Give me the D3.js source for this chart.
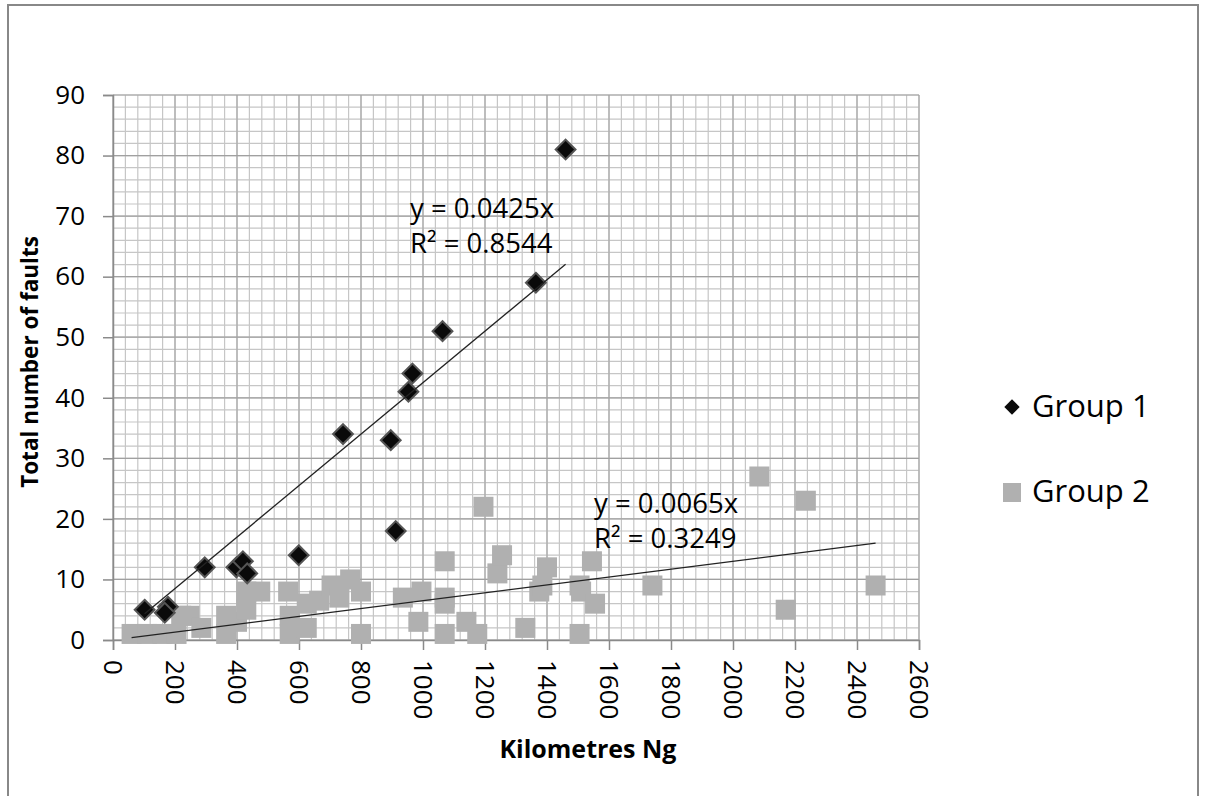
<!DOCTYPE html>
<html>
<head>
<meta charset="utf-8">
<script src="https://cdn.jsdelivr.net/npm/d3@7"></script>
<style>
  html, body { margin: 0; padding: 0; background: #fff; }
  svg { display: block; }
  text { font-family: "Open Sans", "DejaVu Sans", sans-serif; fill: #000; }
</style>
</head>
<body>
<script>
// Kilometres driven vs. total faults, two vehicle groups
const group1X = [102, 177, 167, 296, 398, 419, 433, 599, 742, 896, 912, 953, 966, 1063, 1364, 1460];
const group1Y = [5, 5.5, 4.5, 12, 12, 13, 11, 14, 34, 33, 18, 41, 44, 51, 59, 81];

const group2X = [60, 110, 160, 205, 220, 247, 285, 365, 365, 400, 430, 475, 430, 565, 570, 570,
                 625, 625, 665, 705, 730, 765, 800, 800, 935, 995, 985, 1070, 1070, 1070, 1070,
                 1140, 1175, 1195, 1240, 1255, 1330, 1375, 1385, 1400, 1505, 1510, 1505, 1545,
                 1555, 1740, 2085, 2170, 2235, 2460];
const group2Y = [1, 1, 1, 1, 4, 4, 2, 4, 1, 3, 8, 8, 5, 8, 4, 1,
                 6, 2, 6.5, 9, 7, 10, 8, 1, 7, 8, 3, 13, 7, 6, 1,
                 3, 1, 22, 11, 14, 2, 8, 9, 12, 9, 8, 1, 13,
                 6, 9, 27, 5, 23, 9];

// Linear trend through the origin for each group
const trendSlopes = [0.0425, 0.0065];
const trendLabels = [["y = 0.0425x", "R\u00B2 = 0.8544"], ["y = 0.0065x", "R\u00B2 = 0.3249"]];
const seriesNames = ["Group 1", "Group 2"];

const xTicks = d3.range(0, 2601, 200);
const yTicks = d3.range(0, 91, 10);
const xMinor = d3.range(0, 2601, 40);
const yMinor = d3.range(0, 91, 2);

const W = 1205, H = 796;
const plot = { left: 113, right: 919, top: 95, bottom: 640 };

const svg = d3.select("body").append("svg").attr("width", W).attr("height", H);

// chart frame
svg.append("rect")
  .attr("x", 8).attr("y", 5).attr("width", 1190).attr("height", 800)
  .attr("fill", "none").attr("stroke", "#888").attr("stroke-width", 2);

const x = d3.scaleLinear().domain([0, 2600]).range([plot.left, plot.right]);
const y = d3.scaleLinear().domain([0, 90]).range([plot.bottom, plot.top]);

// minor gridlines
const grid = svg.append("g");
grid.selectAll("line.vx").data(xMinor).join("line")
  .attr("x1", d => x(d)).attr("x2", d => x(d))
  .attr("y1", plot.top).attr("y2", plot.bottom)
  .attr("stroke", "#c6c6c6").attr("stroke-width", 1.2);
grid.selectAll("line.hy").data(yMinor).join("line")
  .attr("y1", d => y(d)).attr("y2", d => y(d))
  .attr("x1", plot.left).attr("x2", plot.right)
  .attr("stroke", "#c6c6c6").attr("stroke-width", 1.2);
// major gridlines
grid.selectAll("line.mx").data(xTicks).join("line")
  .attr("x1", d => x(d)).attr("x2", d => x(d))
  .attr("y1", plot.top).attr("y2", plot.bottom)
  .attr("stroke", "#a8a8a8").attr("stroke-width", 1.2);
grid.selectAll("line.my").data(yTicks).join("line")
  .attr("y1", d => y(d)).attr("y2", d => y(d))
  .attr("x1", plot.left).attr("x2", plot.right)
  .attr("stroke", "#a0a0a0").attr("stroke-width", 1.2);

// axes
const yAxis = svg.append("g")
  .attr("transform", `translate(${plot.left},0)`)
  .call(d3.axisLeft(y).tickValues(yTicks).tickSize(10).tickPadding(18).tickFormat(d3.format("d")));
yAxis.select(".domain").attr("stroke", "#8a8a8a").attr("stroke-width", 1.5);
yAxis.selectAll(".tick line").attr("stroke", "#8a8a8a").attr("stroke-width", 1.5);
yAxis.selectAll(".tick text").style("font-size", "26px").attr("font-family", null);

const xAxis = svg.append("g")
  .attr("transform", `translate(0,${plot.bottom})`)
  .call(d3.axisBottom(x).tickValues(xTicks).tickSize(10).tickFormat(d3.format("d")));
xAxis.select(".domain").attr("stroke", "#8a8a8a").attr("stroke-width", 1.5);
xAxis.selectAll(".tick line").attr("stroke", "#8a8a8a").attr("stroke-width", 1.5);
xAxis.selectAll(".tick text")
  .style("font-size", "26px")
  .attr("font-family", null)
  .attr("text-anchor", "start")
  .attr("dy", null)
  .attr("dominant-baseline", "central")
  .attr("y", 0).attr("x", 0)
  .attr("transform", "translate(0,20) rotate(90)");

// axis titles
svg.append("text")
  .attr("x", 588).attr("y", 758)
  .attr("text-anchor", "middle")
  .style("font-size", "25px").style("font-weight", "bold")
  .text("Kilometres Ng");
svg.append("text")
  .attr("transform", "translate(38,362) rotate(-90)")
  .attr("text-anchor", "middle")
  .style("font-size", "22.5px").style("font-weight", "bold")
  .text("Total number of faults");

// Group 2 squares
const sq = 20;
svg.append("g").selectAll("rect")
  .data(group2X.map((d, i) => [d, group2Y[i]]))
  .join("rect")
  .attr("x", d => x(d[0]) - sq / 2).attr("y", d => y(d[1]) - sq / 2)
  .attr("width", sq).attr("height", sq)
  .attr("fill", "#b0b0b0");

// Group 1 diamonds
const diamond = d3.symbol().type(d3.symbolDiamond2).size(250);
svg.append("g").selectAll("path")
  .data(group1X.map((d, i) => [d, group1Y[i]]))
  .join("path")
  .attr("d", diamond)
  .attr("transform", d => `translate(${x(d[0])},${y(d[1])})`)
  .attr("fill", "#0a0a0a").attr("stroke", "#555").attr("stroke-width", 2);

// trend lines, drawn over the markers from min to max x of each group
const groupsX = [group1X, group2X];
trendSlopes.forEach((m, i) => {
  const [x0, x1] = d3.extent(groupsX[i]);
  svg.append("line")
    .attr("x1", x(x0)).attr("y1", y(m * x0))
    .attr("x2", x(x1)).attr("y2", y(m * x1))
    .attr("stroke", "#222").attr("stroke-width", 1.3);
});

// trend equations
const eqPos = [[410, 218], [594, 513]];
trendLabels.forEach((lines, i) => {
  lines.forEach((t, j) => {
    svg.append("text")
      .attr("x", eqPos[i][0]).attr("y", eqPos[i][1] + j * 35)
      .style("font-size", "27.5px")
      .text(t);
  });
});

// legend
const legend = svg.append("g");
legend.append("path")
  .attr("d", d3.symbol().type(d3.symbolDiamond2).size(150))
  .attr("transform", "translate(1012,407)")
  .attr("fill", "#0a0a0a");
legend.append("rect")
  .attr("x", 1003).attr("y", 483).attr("width", 18).attr("height", 19)
  .attr("fill", "#b0b0b0");
seriesNames.forEach((n, i) => {
  legend.append("text")
    .attr("x", 1032).attr("y", 417 + i * 85)
    .style("font-size", "31px")
    .text(n);
});
</script>
</body>
</html>
